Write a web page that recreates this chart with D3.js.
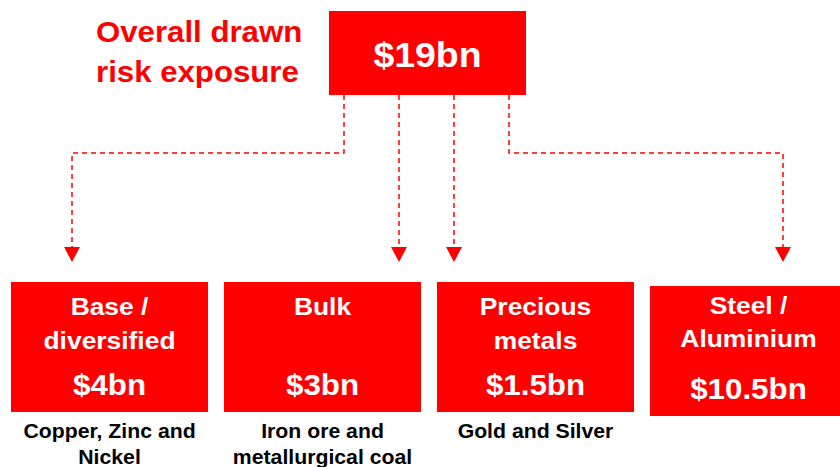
<!DOCTYPE html>
<html>
<head>
<meta charset="utf-8">
<script src="https://cdn.jsdelivr.net/npm/d3@7/dist/d3.min.js"></script>
<style>
  body { margin: 0; background: #fff; }
  svg { display: block; font-family: Arial, "Liberation Sans", sans-serif; font-weight: bold; }
</style>
</head>
<body>
<script>
// chart data
var totalLabel = "$19bn";
var headline = ["Overall drawn", "risk exposure"];
var categories = ["Base / diversified", "Bulk", "Precious metals", "Steel / Aluminium"];
var titleLines = [["Base /", "diversified"], ["Bulk"], ["Precious", "metals"], ["Steel /", "Aluminium"]];
var values = [4, 3, 1.5, 10.5];
var captions = [["Copper, Zinc and", "Nickel"], ["Iron ore and", "metallurgical coal"], ["Gold and Silver"], []];

var w = 840, h = 467;
var red = "#ff0000";

var svg = d3.select("body").append("svg")
    .attr("width", w)
    .attr("height", h);

// text placed with a small horizontal stretch, the source type is a bit wider
function place(sel, fx, fy, sx) {
  sel.attr("transform", function(d, i) {
    return "translate(" + fx(d, i) + "," + fy(d, i) + ") scale(" + sx + ",1)";
  });
}

// bottom boxes laid out with a band scale
var x = d3.scaleBand()
    .domain(categories)
    .range([11, 847])
    .paddingInner(0.075)
    .paddingOuter(0);

var boxW = x.bandwidth();
var boxTop = 282, boxH = 130;

// top box
var topX = 329, topY = 11, topH = 84;
svg.append("rect")
    .attr("x", topX).attr("y", topY)
    .attr("width", boxW).attr("height", topH)
    .attr("fill", red);
svg.append("text")
    .attr("text-anchor", "middle")
    .attr("fill", "#fff")
    .attr("font-size", 35)
    .text(totalLabel)
    .call(place, function() { return topX + boxW / 2; }, function() { return 67; }, 1.07);

svg.selectAll("text.head")
    .data(headline)
    .enter().append("text")
    .attr("class", "head")
    .attr("fill", red)
    .attr("font-size", 30)
    .text(function(d) { return d; })
    .call(place, function() { return 96; }, function(d, i) { return 42 + i * 40; }, 1.04);

// exit points along bottom of top box
var exitX = d3.scalePoint().domain(categories).range([344, 509]);
var elbowY = 153, arrowTip = 262, headH = 15, headW = 16;

function targetX(d, i) {
  if (i == 0) return x(d) + 61;
  if (i == categories.length - 1) return x(d) + 133;
  return exitX(d);
}

var links = svg.append("g").attr("class", "links");
links.selectAll("path")
    .data(categories)
    .enter().append("path")
    .attr("fill", "none")
    .attr("stroke", red)
    .attr("stroke-width", 1.5)
    .attr("stroke-dasharray", "5,4")
    .attr("d", function(d, i) {
      var x0 = exitX(d), x1 = targetX(d, i);
      var p = d3.path();
      p.moveTo(x0, topY + topH);
      if (x0 != x1) {
        p.lineTo(x0, elbowY);
        p.lineTo(x1, elbowY);
      }
      p.lineTo(x1, arrowTip - headH);
      return p.toString();
    });

links.selectAll("polygon")
    .data(categories)
    .enter().append("polygon")
    .attr("fill", red)
    .attr("points", function(d, i) {
      var tx = targetX(d, i);
      return [[tx - headW / 2, arrowTip - headH], [tx + headW / 2, arrowTip - headH], [tx, arrowTip]].join(" ");
    });

// category boxes
var box = svg.selectAll("g.box")
    .data(categories)
    .enter().append("g")
    .attr("class", "box")
    .attr("transform", function(d, i) {
      var dy = i == categories.length - 1 ? 4 : 0;
      return "translate(" + x(d) + "," + (boxTop + dy) + ")";
    });

box.append("rect")
    .attr("width", boxW)
    .attr("height", boxH)
    .attr("fill", red);

box.each(function(d, i) {
  var g = d3.select(this);
  var last = i == categories.length - 1;
  g.selectAll("text.title")
      .data(titleLines[i])
      .enter().append("text")
      .attr("class", "title")
      .attr("text-anchor", "middle")
      .attr("fill", "#fff")
      .attr("font-size", 24)
      .text(function(t) { return t; })
      .call(place, function() { return boxW / 2; },
            function(t, j) { return (last ? 28 : 33) + j * (last ? 33 : 34); }, 1.1);
  g.append("text")
      .attr("text-anchor", "middle")
      .attr("fill", "#fff")
      .attr("font-size", 29)
      .text("$" + values[i] + "bn")
      .call(place, function() { return boxW / 2; }, function() { return 113; }, 1.08);
});

// captions under boxes
categories.forEach(function(c, i) {
  svg.selectAll("text.cap" + i)
      .data(captions[i])
      .enter().append("text")
      .attr("class", "cap" + i)
      .attr("text-anchor", "middle")
      .attr("fill", "#000")
      .attr("font-size", 19.5)
      .text(function(t) { return t; })
      .call(place, function() { return x(c) + boxW / 2; }, function(t, j) { return 438 + j * 26; }, 1.09);
});
</script>
</body>
</html>
